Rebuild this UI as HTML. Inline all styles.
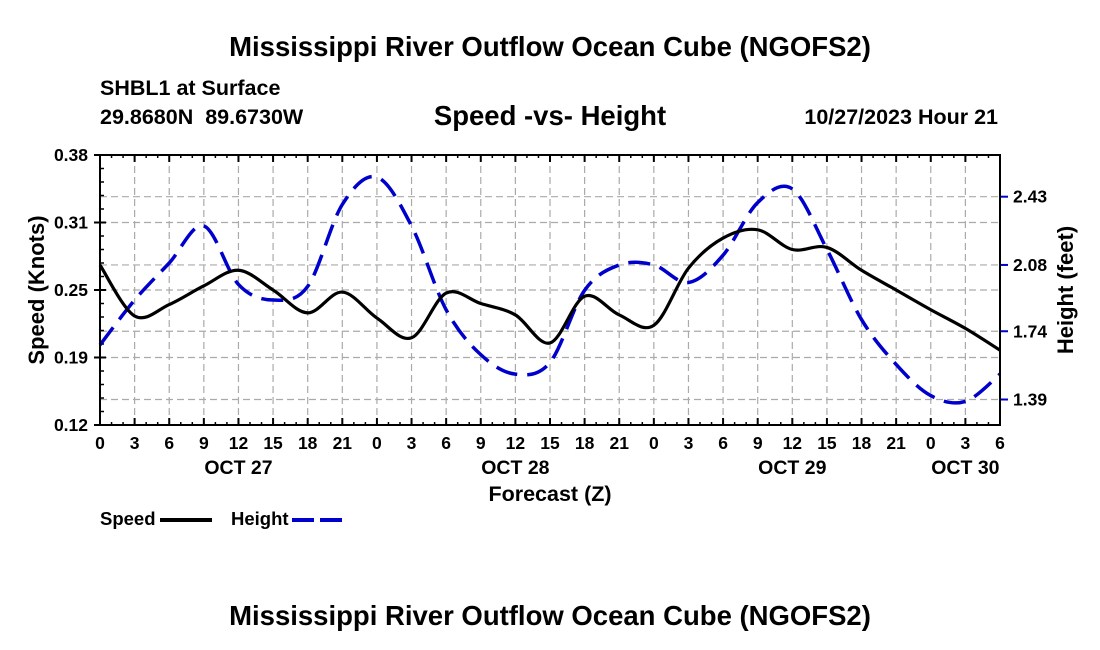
<!DOCTYPE html>
<html><head><meta charset="utf-8"><style>
body{margin:0;background:#fff;}
svg{display:block;font-family:"Liberation Sans",Arial,sans-serif;font-weight:bold;}
</style></head><body>
<svg width="1100" height="650" viewBox="0 0 1100 650">
<text x="550" y="56" text-anchor="middle" font-size="27.5">Mississippi River Outflow Ocean Cube (NGOFS2)</text>
<text x="100" y="95" font-size="21.5">SHBL1 at Surface</text>
<text x="100" y="124" font-size="21.5" xml:space="preserve">29.8680N  89.6730W</text>
<text x="550" y="125" text-anchor="middle" font-size="27.5">Speed -vs- Height</text>
<text x="998" y="124" text-anchor="end" font-size="21.5">10/27/2023 Hour 21</text>
<g id="grid"></g>
<g id="axes"></g>
<g id="series"></g>
<rect x="100" y="155" width="900" height="270" fill="none" stroke="#000" stroke-width="2"/>
<text transform="translate(44,290) rotate(-90)" text-anchor="middle" font-size="22">Speed (Knots)</text>
<text transform="translate(1073,290) rotate(-90)" text-anchor="middle" font-size="22">Height (feet)</text>
<text x="550" y="501" text-anchor="middle" font-size="21.5">Forecast (Z)</text>
<g>
<text x="100" y="525" font-size="18.5">Speed</text>
<line x1="160" y1="520" x2="212" y2="520" stroke="#000" stroke-width="4"/>
<text x="231" y="525" font-size="18.5">Height</text>
<line x1="292" y1="520" x2="342" y2="520" stroke="#0000cc" stroke-width="4" stroke-dasharray="22,6"/>
</g>
<text x="550" y="625" text-anchor="middle" font-size="27.5">Mississippi River Outflow Ocean Cube (NGOFS2)</text>
</svg>
<script>
const hours=[0,3,6,9,12,15,18,21,24,27,30,33,36,39,42,45,48,51,54,57,60,63,66,69,72,75,78];
const speed=[0.274,0.225,0.236,0.254,0.269,0.250,0.228,0.248,0.223,0.204,0.247,0.237,0.226,0.199,0.244,0.226,0.216,0.271,0.300,0.308,0.289,0.291,0.269,0.250,0.231,0.213,0.192];
const height=[1.67,1.90,2.09,2.28,1.98,1.90,1.97,2.39,2.53,2.28,1.85,1.62,1.52,1.58,1.95,2.08,2.08,1.99,2.13,2.40,2.47,2.16,1.80,1.57,1.41,1.38,1.52];
const leftTicks=[0.12,0.19,0.25,0.31,0.38];
const rightTicks=[1.39,1.74,2.08,2.43];
const xTickLabels=["0","3","6","9","12","15","18","21","0","3","6","9","12","15","18","21","0","3","6","9","12","15","18","21","0","3","6"];
const dayLabels=["OCT 27","OCT 28","OCT 29","OCT 30"];
const dayHours=[12,36,60,75];
const NS="http://www.w3.org/2000/svg";
const X0=100,X1=1000,YT=155,YB=425,TMAX=78;
const yMin=0.12,yMax=0.38,hPer=195;
function sx(t){return X0+(X1-X0)*t/TMAX;}
function sy(v){return YB-(v-yMin)/(yMax-yMin)*(YB-YT);}
function sh(h){return 399.5-(h-1.39)*hPer;}
function mk(tag,attrs,parent){const e=document.createElementNS(NS,tag);for(const k in attrs)e.setAttribute(k,attrs[k]);parent.appendChild(e);return e;}
const grid=document.getElementById('grid'),axes=document.getElementById('axes'),series=document.getElementById('series');
hours.forEach((t,i)=>{
 const x=sx(t);
 if(i>0&&i<hours.length-1){const l=mk('line',{x1:x,y1:YT,x2:x,y2:YB,stroke:'#aaa','stroke-width':1.2,'stroke-dasharray':'7,4'},grid);
 
 }
 mk('line',{x1:x,y1:YB,x2:x,y2:YB-7,stroke:'#000','stroke-width':2},axes);
 mk('line',{x1:x,y1:YT,x2:x,y2:YT+7,stroke:'#000','stroke-width':2},axes);
 const tx=mk('text',{x:x,y:449,'text-anchor':'middle','font-size':17.5},axes);
 tx.textContent=xTickLabels[i];
 
 
});
for(let t=0;t<=TMAX;t++){const x=sx(t);mk('line',{x1:x,y1:YB,x2:x,y2:YB-3,stroke:'#000','stroke-width':1.5},axes);mk('line',{x1:x,y1:YT,x2:x,y2:YT+3,stroke:'#000','stroke-width':1.5},axes);}
dayLabels.forEach((d,i)=>{const tx=mk('text',{x:sx(dayHours[i]),y:474,'text-anchor':'middle','font-size':19.5},axes);tx.textContent=d;
 
 });
const lstep=(yMax-yMin)/4;
for(let i=0;i<=4;i++){const v=yMin+i*lstep,y=sy(v);
 if(i>0&&i<4){const l=mk('line',{x1:X0,y1:y,x2:X1,y2:y,stroke:'#aaa','stroke-width':1.2,'stroke-dasharray':'7,4'},grid);
 
 }
 mk('line',{x1:X0-6,y1:y,x2:X0+6,y2:y,stroke:'#000','stroke-width':2},axes);
 const tx=mk('text',{x:88,y:y+6,'text-anchor':'end','font-size':17.5},axes);tx.textContent=leftTicks[i].toFixed(2);
 
 }
for(let i=0;i<=20;i++){const y=YB-i*(YB-YT)/20;mk('line',{x1:X0,y1:y,x2:X0+4,y2:y,stroke:'#000','stroke-width':1.5},axes);}
rightTicks.forEach(h=>{const y=sh(h);
 const l=mk('line',{x1:X0,y1:y,x2:X1,y2:y,stroke:'#aaa','stroke-width':1.2,'stroke-dasharray':'7,4'},grid);
 
 
 mk('line',{x1:X1,y1:y,x2:X1+8,y2:y,stroke:'#0000cc','stroke-width':2},axes);
 const tx=mk('text',{x:1013,y:y+6,'font-size':17.5},axes);tx.textContent=h.toFixed(2);
 
 });
function smooth(pts){let d='M'+pts[0][0]+','+pts[0][1];
 for(let i=0;i<pts.length-1;i++){const p0=pts[Math.max(0,i-1)],p1=pts[i],p2=pts[i+1],p3=pts[Math.min(pts.length-1,i+2)];
 const c1=[p1[0]+(p2[0]-p0[0])/6,p1[1]+(p2[1]-p0[1])/6],c2=[p2[0]-(p3[0]-p1[0])/6,p2[1]-(p3[1]-p1[1])/6];
 d+=' C'+c1[0]+','+c1[1]+' '+c2[0]+','+c2[1]+' '+p2[0]+','+p2[1];}
 return d;}
const hp=mk('path',{d:smooth(hours.map((t,i)=>[sx(t),sh(height[i])])),fill:'none',stroke:'#0000cc','stroke-width':3.5,'stroke-dasharray':'22,10'},series);


const spd=mk('path',{d:smooth(hours.map((t,i)=>[sx(t),sy(speed[i])])),fill:'none',stroke:'#000','stroke-width':3.2},series);


</script>
</body></html>
